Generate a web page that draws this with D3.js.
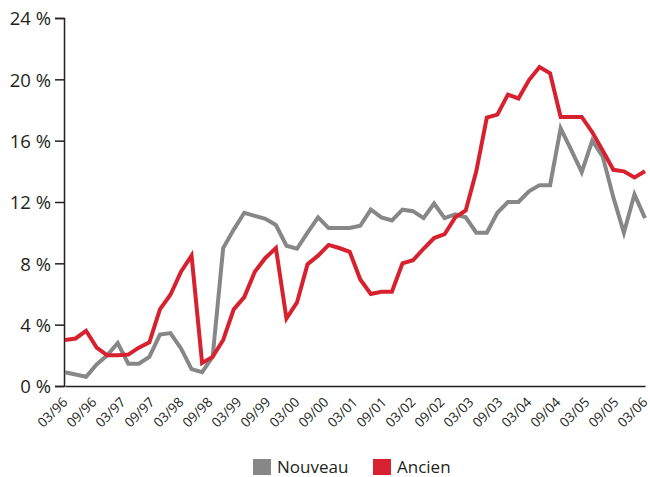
<!DOCTYPE html>
<html>
<head>
<meta charset="utf-8">
<script src="https://cdn.jsdelivr.net/npm/d3@7"></script>
<style>
  html, body { margin: 0; padding: 0; background: #fff; }
  svg { display: block; font-family: "Open Sans", "Liberation Sans", sans-serif; }
</style>
</head>
<body>
<svg id="chart" width="650" height="477"></svg>
<script>
// ---- Data ----
const tickLabels = ["03/96","09/96","03/97","09/97","03/98","09/98","03/99","09/99","03/00","09/00",
  "03/01","09/01","03/02","09/02","03/03","09/03","03/04","09/04","03/05","09/05","03/06"];
const yTicks = [0, 4, 8, 12, 16, 20, 24];

const nouveau = [0.9, 0.75, 0.6, 1.4, 2.0, 2.8, 1.45, 1.45, 1.9, 3.35, 3.45, 2.45, 1.1, 0.9, 1.9,
  9.0, 10.2, 11.3, 11.1, 10.9, 10.5, 9.15, 8.95, 10.0, 11.0, 10.3, 10.3, 10.3, 10.45, 11.5,
  11.0, 10.8, 11.5, 11.4, 10.95, 11.9, 10.95, 11.2, 11.0, 10.0, 10.0, 11.3, 12.0, 12.0, 12.7,
  13.1, 13.1, 16.8, 15.4, 13.95, 16.0, 14.95, 12.3, 10.0, 12.5, 10.95];
const ancien = [3.0, 3.1, 3.6, 2.5, 2.0, 2.0, 2.05, 2.5, 2.85, 5.0, 5.95, 7.45, 8.5, 1.5, 1.9,
  3.0, 5.0, 5.8, 7.45, 8.35, 9.0, 4.4, 5.45, 7.95, 8.5, 9.2, 9.0, 8.75, 6.95, 6.0,
  6.15, 6.15, 8.0, 8.2, 8.95, 9.65, 9.9, 11.0, 11.45, 14.0, 17.5, 17.7, 19.0, 18.75, 19.95,
  20.8, 20.4, 17.55, 17.55, 17.55, 16.55, 15.35, 14.1, 14.0, 13.6, 14.0];

const series = [
  { name: "Nouveau", values: nouveau, color: "#878787" },
  { name: "Ancien", values: ancien, color: "#d7212f" }
];

// ---- Layout ----
const svg = d3.select("#chart");
const mLeft = 64, mRight = 645, mTop = 18, mBottom = 386;

const x = d3.scaleLinear().domain([0, ancien.length - 1]).range([mLeft + 1, mRight]);
const xl = d3.scalePoint().domain(tickLabels).range([mLeft + 1, mRight]);
const y = d3.scaleLinear().domain([0, 24]).range([mBottom, mTop]);

// Y axis
const yAxis = d3.axisLeft(y).tickValues(yTicks).tickSize(9).tickPadding(4)
  .tickFormat(d => d + " %");
const gy = svg.append("g").attr("transform", `translate(${mLeft},0)`).call(yAxis);
gy.select(".domain").attr("stroke", "#231f20").attr("stroke-width", 1.5);
gy.selectAll(".tick line").attr("stroke", "#231f20").attr("stroke-width", 1.5);
gy.selectAll(".tick text").attr("fill", "#231f20").attr("font-size", 18.5)
  .attr("font-family", "'Open Sans', sans-serif").attr("dy", "0.36em");

// X axis (line + rotated labels, no tick marks)
const xAxis = d3.axisBottom(xl).tickSize(0).tickPadding(0);
const gx = svg.append("g").attr("transform", `translate(0,${mBottom})`).call(xAxis);
gx.select(".domain").attr("stroke", "#231f20").attr("stroke-width", 1.5);
gx.selectAll(".tick text")
  .attr("fill", "#231f20")
  .attr("font-size", 13.5)
  .attr("font-family", "'Open Sans', sans-serif")
  .attr("text-anchor", "end")
  .attr("dy", 0)
  .attr("y", 0)
  .attr("transform", "translate(3,17) rotate(-45)");

// Lines
const line = d3.line().x((d, i) => x(i)).y(d => y(d));
svg.append("g").selectAll("path").data(series).join("path")
  .attr("d", d => line(d.values))
  .attr("fill", "none")
  .attr("stroke", d => d.color)
  .attr("stroke-width", 4)
  .attr("stroke-linejoin", "miter")
  .attr("stroke-miterlimit", 4);

// Legend
const legendPos = [253, 373];
const lg = svg.append("g").selectAll("g").data(series).join("g")
  .attr("transform", (d, i) => `translate(${legendPos[i]},459)`);
lg.append("rect").attr("width", 18).attr("height", 16).attr("fill", d => d.color);
lg.append("text").attr("x", 24).attr("y", 14).attr("font-size", 17)
  .attr("fill", "#231f20").text(d => d.name);
</script>
</body>
</html>
